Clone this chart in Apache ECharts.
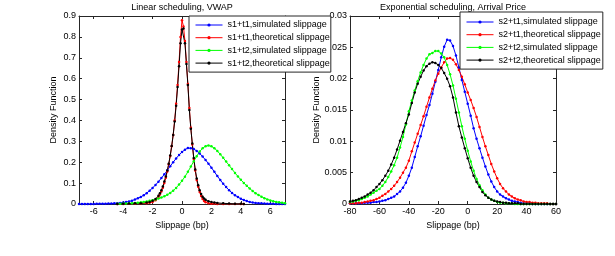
<!DOCTYPE html>
<html><head><meta charset="utf-8">
<script src="https://cdn.jsdelivr.net/npm/echarts@6/dist/echarts.min.js"></script>
<style>html,body{margin:0;padding:0;background:#fff}#c{width:615px;height:256px}</style>
</head><body><div id="c"></div>
<script>
// ---------- Left panel: Linear scheduling, VWAP ----------
const leftTitle = 'Linear scheduling, VWAP';
const leftNames = ['s1+t1,simulated slippage', 's1+t1,theoretical slippage', 's1+t2,simulated slippage', 's1+t2,theoretical slippage'];
const leftXTicks = [-6, -4, -2, 0, 2, 4, 6];
const leftX = [-7,-6.8,-6.6,-6.4,-6.2,-6,-5.8,-5.6,-5.4,-5.2,-5,-4.8,-4.6,-4.4,-4.2,-4,-3.8,-3.6,-3.4,-3.2,-3,-2.8,-2.6,-2.4,-2.2,-2,-1.8,-1.6,-1.4,-1.2,-1,-0.8,-0.6,-0.4,-0.2,0,0.2,0.4,0.6,0.8,1,1.2,1.4,1.6,1.8,2,2.2,2.4,2.6,2.8,3,3.2,3.4,3.6,3.8,4,4.2,4.4,4.6,4.8,5,5.2,5.4,5.6,5.8,6,6.2,6.4,6.6,6.8,7];
const blueL = [0,0,0,0,0,0,0.001,0.001,0.001,0.001,
  0.002,0.002,0.003,0.004,0.005,0.007,0.009,0.012,0.016,0.021,
  0.027,0.034,0.042,0.052,0.064,0.077,0.091,0.107,0.124,0.142,
  0.161,0.181,0.200,0.218,0.235,0.249,0.260,0.268,0.267,0.263,
  0.254,0.242,0.227,0.211,0.193,0.174,0.154,0.134,0.115,0.097,
  0.081,0.066,0.053,0.042,0.033,0.025,0.019,0.014,0.010,0.007,
  0.005,0.004,0.003,0.002,0.001,0.001,0.001,0,0,0,
  0];
const greenL = [null,null,null,null,null,null,null,null,null,null,null,null,null,
  0.001,0.001,0.002,0.002,0.003,0.004,0.005,0.006,0.008,0.010,
  0.012,0.015,0.018,0.022,0.026,0.031,0.037,0.044,0.053,0.064,
  0.077,0.093,0.111,0.131,0.154,0.179,0.205,0.229,0.251,0.267,
  0.277,0.280,0.276,0.267,0.254,0.238,0.221,0.203,0.185,0.167,
  0.149,0.132,0.116,0.101,0.087,0.074,0.062,0.052,0.043,0.035,
  0.028,0.022,0.017,0.013,0.010,0.008,0.006,0.004];
const peakX = [-4.4,-4,-3.6,-3.2,-2.8,-2.4,-2.2,-2,-1.8,-1.6,
  -1.5,-1.4,-1.3,-1.2,-1.1,-1,-0.9,-0.8,-0.7,-0.6,
  -0.5,-0.4,-0.3,-0.2,-0.1,0,0.1,0.2,0.3,0.4,
  0.5,0.6,0.7,0.8,0.9,1,1.1,1.2,1.3,1.4,
  1.5,1.6,1.8,2,2.2,2.4,2.8,3.2,3.6,4,
  4.2];
const redL = [0,0,0.001,0.001,0.002,0.004,0.006,0.010,0.018,0.033,
  0.045,0.060,0.078,0.100,0.126,0.156,0.190,0.230,0.276,0.330,
  0.400,0.480,0.570,0.680,0.800,0.880,0.850,0.780,0.680,0.575,
  0.460,0.365,0.285,0.215,0.160,0.115,0.082,0.057,0.038,0.024,
  0.014,0.008,0.003,0.001,0.001,0,0,0,0,0,
  0];
const blackL = [0.000,0.001,0.002,0.003,0.004,0.007,0.010,0.015,0.024,0.040,
  0.052,0.066,0.084,0.108,0.132,0.160,0.193,0.232,0.278,0.330,
  0.395,0.470,0.560,0.660,0.770,0.835,0.840,0.770,0.670,0.570,
  0.450,0.360,0.290,0.220,0.165,0.122,0.090,0.066,0.048,0.035,
  0.026,0.020,0.013,0.009,0.007,0.005,0.003,0.002,0.001,0.001,
  0.000];

// ---------- Right panel: Exponential scheduling, Arrival Price ----------
const rightTitle = 'Exponential scheduling, Arrival Price';
const rightNames = ['s2+t1,simulated slippage', 's2+t1,theoretical slippage', 's2+t2,simulated slippage', 's2+t2,theoretical slippage'];
const rightX = [-80,-78,-76,-74,-72,-70,-68,-66,-64,-62,
  -60,-58,-56,-54,-52,-50,-48,-46,-44,-42,
  -40,-38,-36,-34,-32,-30,-28,-26,-24,-22,
  -20,-18,-16,-14,-12,-10,-8,-6,-4,-2,
  0,2,4,6,8,10,12,14,16,18,
  20,22,24,26,28,30,32,34,36,38,
  40,42,44,46,48,50,52,54,56,58,
  60];
const blueR = [0.0001,0.0001,0.0001,0.0001,0.0001,0.0002,0.0002,0.0002,0.0003,0.0003,
  0.0004,0.0005,0.0006,0.0008,0.0010,0.0012,0.0016,0.0020,0.0026,0.0034,
  0.0045,0.0058,0.0075,0.0092,0.0108,0.0125,0.0142,0.0158,0.0176,0.0195,
  0.0214,0.0234,0.0251,0.0262,0.0261,0.0252,0.0237,0.0218,0.0198,0.0179,
  0.0160,0.0141,0.0121,0.0104,0.0089,0.0074,0.0060,0.0047,0.0036,0.0027,
  0.0020,0.0015,0.0012,0.0009,0.0007,0.0005,0.0004,0.0003,0.0002,0.0001,
  0.0001,0.0001,0,0,0,0,0,0,0,0,
  0];
const redR = [0.0001,0.0001,0.0001,0.0002,0.0002,0.0003,0.0004,0.0005,0.0006,0.0008,
  0.0010,0.0013,0.0016,0.0020,0.0024,0.0029,0.0035,0.0042,0.0050,0.0058,
  0.0069,0.0084,0.0098,0.0112,0.0126,0.0140,0.0155,0.0170,0.0184,0.0197,
  0.0208,0.0218,0.0226,0.0232,0.0233,0.0230,0.0223,0.0214,0.0203,0.0191,
  0.0178,0.0166,0.0153,0.0139,0.0123,0.0107,0.0092,0.0078,0.0064,0.0052,
  0.0041,0.0032,0.0025,0.0020,0.0015,0.0012,0.0009,0.0007,0.0006,0.0004,
  0.0003,0.0003,0.0002,0.0002,0.0001,0.0001,0.0001,0.0001,0,0,
  0];
const greenR = [0.0003,0.0004,0.0005,0.0006,0.0008,0.0010,0.0012,0.0015,0.0018,0.0021,
  0.0024,0.0029,0.0035,0.0043,0.0052,0.0062,0.0074,0.0090,0.0107,0.0127,
  0.0148,0.0165,0.0181,0.0196,0.0210,0.0222,0.0232,0.0239,0.0241,0.0244,
  0.0244,0.0240,0.0234,0.0222,0.0207,0.0189,0.0168,0.0146,0.0124,0.0104,
  0.0085,0.0068,0.0053,0.0040,0.0030,0.0022,0.0015,0.0010,0.0007,0.0005,
  0.0003,0.0002,0.0002,0.0001,0.0001,0.0001,0,0,0,0,
  0,0,0,0,0,0,0,0,0,0,
  0];
const blackR = [0.0004,0.0005,0.0006,0.0008,0.0010,0.0012,0.0015,0.0018,0.0022,0.0027,
  0.0032,0.0038,0.0045,0.0053,0.0063,0.0074,0.0087,0.0101,0.0115,0.0129,
  0.0143,0.0161,0.0178,0.0192,0.0203,0.0213,0.0220,0.0224,0.0226,0.0225,
  0.0222,0.0217,0.0209,0.0200,0.0188,0.0170,0.0146,0.0124,0.0106,0.0089,
  0.0073,0.0058,0.0045,0.0035,0.0027,0.0019,0.0014,0.0010,0.0007,0.0005,
  0.0004,0.0003,0.0002,0.0002,0.0001,0.0001,0.0001,0.0001,0,0,
  0,0,0,0,0,0,0,0,0,0,
  0];

const colors = ['#0000ff', '#ff0000', '#00ff00', '#000000'];
const FONT = 'Liberation Sans, Arial, Helvetica, sans-serif';
const AX = '#262626';

function pairs(xs, ys) {
  return xs.map((x, i) => [x, ys[i]]).filter(p => p[1] !== null);
}

function xAx(grid, min, max, interval, custom, pos, name) {
  const a = {
    type: 'value', gridIndex: grid, min: min, max: max, position: pos,
    axisLine: { show: true, onZero: false, lineStyle: { color: AX, width: 1 } },
    axisTick: { show: true, inside: true, length: 3, lineStyle: { color: AX } },
    axisLabel: { show: pos === 'bottom', margin: 3, color: '#000', fontSize: 9, fontFamily: FONT },
    splitLine: { show: false }
  };
  if (interval) a.interval = interval;
  if (custom) { a.axisTick.customValues = custom; a.axisLabel.customValues = custom; }
  if (name) {
    a.name = name; a.nameLocation = 'middle'; a.nameGap = 13;
    a.nameTextStyle = { color: '#000', fontSize: 9, fontFamily: FONT };
  }
  return a;
}
function yAx(grid, min, max, interval, pos, name, gap) {
  const a = {
    type: 'value', gridIndex: grid, min: min, max: max, interval: interval, position: pos,
    axisLine: { show: true, onZero: false, lineStyle: { color: AX, width: 1 } },
    axisTick: { show: true, inside: true, length: 3, lineStyle: { color: AX } },
    axisLabel: { show: pos === 'left', margin: 3, color: '#000', fontSize: 9, fontFamily: FONT },
    splitLine: { show: false }
  };
  if (name) {
    a.name = name; a.nameLocation = 'middle'; a.nameGap = gap;
    a.nameTextStyle = { color: '#000', fontSize: 9, fontFamily: FONT };
  }
  return a;
}
function ser(name, xi, data, ci) {
  return {
    type: 'line', name: name, xAxisIndex: xi, yAxisIndex: xi, data: data,
    symbol: 'circle', symbolSize: 2.5, showSymbol: true, showAllSymbol: true,
    itemStyle: { color: colors[ci] }, lineStyle: { color: colors[ci], width: 1 },
    emphasis: { disabled: true }, animation: false
  };
}
function legend(names, left, top, pad) {
  return {
    data: names, orient: 'vertical', left: left, top: top,
    backgroundColor: '#fff', borderColor: AX, borderWidth: 1, borderRadius: 0,
    padding: pad, itemWidth: 27, itemHeight: 4, itemGap: 0.7,
    selectedMode: false,
    lineStyle: { width: 1 },
    textStyle: { color: '#000', fontSize: 9, fontFamily: FONT, lineHeight: 12 }
  };
}

const chart = echarts.init(document.getElementById('c'), null, { renderer: 'canvas' });
chart.setOption({
  animation: false,
  backgroundColor: '#fff',
  title: [
    { text: leftTitle, left: 182, top: 3, padding: 0, textAlign: 'center',
      textStyle: { fontSize: 9, fontWeight: 'normal', color: '#000', fontFamily: FONT } },
    { text: rightTitle, left: 453, top: 3, padding: 0, textAlign: 'center',
      textStyle: { fontSize: 9, fontWeight: 'normal', color: '#000', fontFamily: FONT } }
  ],
  grid: [
    { left: 79, top: 16, width: 206, height: 188, containLabel: false },
    { left: 350, top: 16, width: 206, height: 188, containLabel: false }
  ],
  xAxis: [
    xAx(0, -7, 7, null, leftXTicks, 'bottom', 'Slippage (bp)'),
    xAx(0, -7, 7, null, leftXTicks, 'top', null),
    xAx(1, -80, 60, 20, null, 'bottom', 'Slippage (bp)'),
    xAx(1, -80, 60, 20, null, 'top', null)
  ],
  yAxis: [
    yAx(0, 0, 0.9, 0.1, 'left', 'Density Function', 21),
    yAx(0, 0, 0.9, 0.1, 'right', null, 0),
    yAx(1, 0, 0.03, 0.005, 'left', 'Density Function', 29),
    yAx(1, 0, 0.03, 0.005, 'right', null, 0)
  ],
  legend: [ legend(leftNames, 189, 16, [3, 1, 3, 6]), legend(rightNames, 460, 12, [4, 2, 3, 6]) ],
  series: [
    ser(leftNames[0], 0, pairs(leftX, blueL), 0),
    ser(leftNames[1], 0, pairs(peakX, redL), 1),
    ser(leftNames[2], 0, pairs(leftX, greenL), 2),
    ser(leftNames[3], 0, pairs(peakX, blackL), 3),
    ser(rightNames[0], 2, pairs(rightX, blueR), 0),
    ser(rightNames[1], 2, pairs(rightX, redR), 1),
    ser(rightNames[2], 2, pairs(rightX, greenR), 2),
    ser(rightNames[3], 2, pairs(rightX, blackR), 3)
  ]
});
</script></body></html>
